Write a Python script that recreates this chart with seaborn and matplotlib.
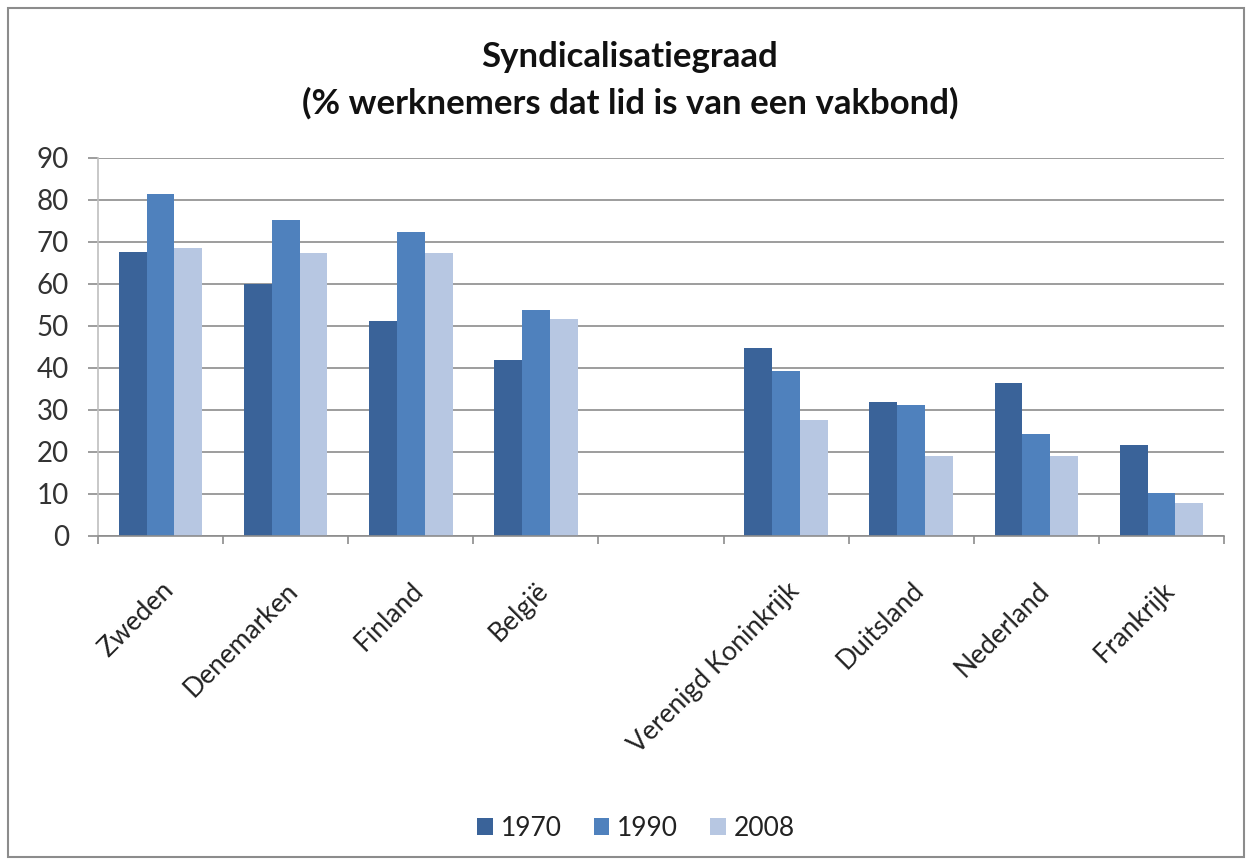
import matplotlib
matplotlib.use("Agg")
import matplotlib.pyplot as plt
import seaborn as sns
import pandas as pd
from matplotlib.patches import Rectangle

countries = ["Zweden", "Denemarken", "Finland", "België", "",
             "Verenigd Koninkrijk", "Duitsland", "Nederland", "Frankrijk"]
data_countries = ["Zweden", "Denemarken", "Finland", "België",
                  "Verenigd Koninkrijk", "Duitsland", "Nederland", "Frankrijk"]
years = ["1970", "1990", "2008"]
v1970 = [67.6, 60.0, 51.1, 41.9, 44.8, 31.9, 36.5, 21.6]
v1990 = [81.4, 75.3, 72.3, 53.9, 39.3, 31.3, 24.3, 10.2]
v2008 = [68.5, 67.4, 67.4, 51.7, 27.6, 19.1, 19.1, 7.8]
colors = ["#3A6399", "#4F81BD", "#B7C7E2"]

rows = []
for yr, vals in zip(years, [v1970, v1990, v2008]):
    for c, v in zip(data_countries, vals):
        rows.append({"land": c, "jaar": yr, "waarde": v})
df = pd.DataFrame(rows)

sns.set_theme(style="white")
plt.rcParams["font.family"] = ["Lato", "DejaVu Sans"]

fig = plt.figure(figsize=(12.52, 8.65), dpi=100)
ax = fig.add_axes([98/1252, 1 - 536/865, (1224-98)/1252, (536-158)/865])

sns.barplot(data=df, x="land", y="waarde", hue="jaar", order=countries,
            hue_order=years, palette=colors, width=0.667, saturation=1,
            edgecolor="none", ax=ax, legend=True)

ax.set_ylim(0, 90)
ax.set_xlim(-0.5, len(countries) - 0.5)
ax.set_yticks(range(0, 91, 10))
ax.yaxis.grid(True, color="#8C8C8C", linewidth=1.2)
ax.set_axisbelow(True)
ax.tick_params(axis="y", labelsize=20, length=7, width=1.2, color="#8C8C8C",
               pad=14, labelcolor="#333333", left=True)
ax.tick_params(axis="x", which="major", length=0, labelsize=19, pad=30,
               labelcolor="#222222")
ax.set_xticks(range(len(countries)))
ax.set_xticklabels(countries, rotation=45, ha="right", rotation_mode="anchor")
ax.set_xticks([i - 0.5 for i in range(len(countries) + 1)], minor=True)
ax.tick_params(axis="x", which="minor", length=6, color="#8C8C8C", width=1.2, bottom=True)
ax.set_xlabel("")
ax.set_ylabel("")
for s in ["top", "right"]:
    ax.spines[s].set_visible(False)
ax.spines["left"].set_color("#BFBFBF")
ax.spines["left"].set_linewidth(1.2)
ax.spines["bottom"].set_color("#8C8C8C")
ax.spines["bottom"].set_linewidth(1.2)

fig.text(0.503, 1 - 57/865, "Syndicalisatiegraad", ha="center", va="center",
         fontsize=25, fontweight="bold", color="#111111")
fig.text(0.503, 1 - 103/865, "(% werknemers dat lid is van een vakbond)", ha="center",
         va="center", fontsize=25, fontweight="bold", color="#111111")

handles, labels = ax.get_legend_handles_labels()
ax.legend(handles, labels, loc="center", bbox_to_anchor=(0.508, 1 - 828/865),
          bbox_transform=fig.transFigure, ncol=3, frameon=False, fontsize=19,
          handlelength=0.6, handleheight=0.6, handletextpad=0.3, columnspacing=1.2,
          labelcolor="#222222")

fig.add_artist(Rectangle((8/1252, 8/865), (1244-8)/1252, (857-8)/865,
                         transform=fig.transFigure, fill=False,
                         edgecolor="#8C8C8C", linewidth=1.5))

fig.savefig("out.png", dpi=100)
